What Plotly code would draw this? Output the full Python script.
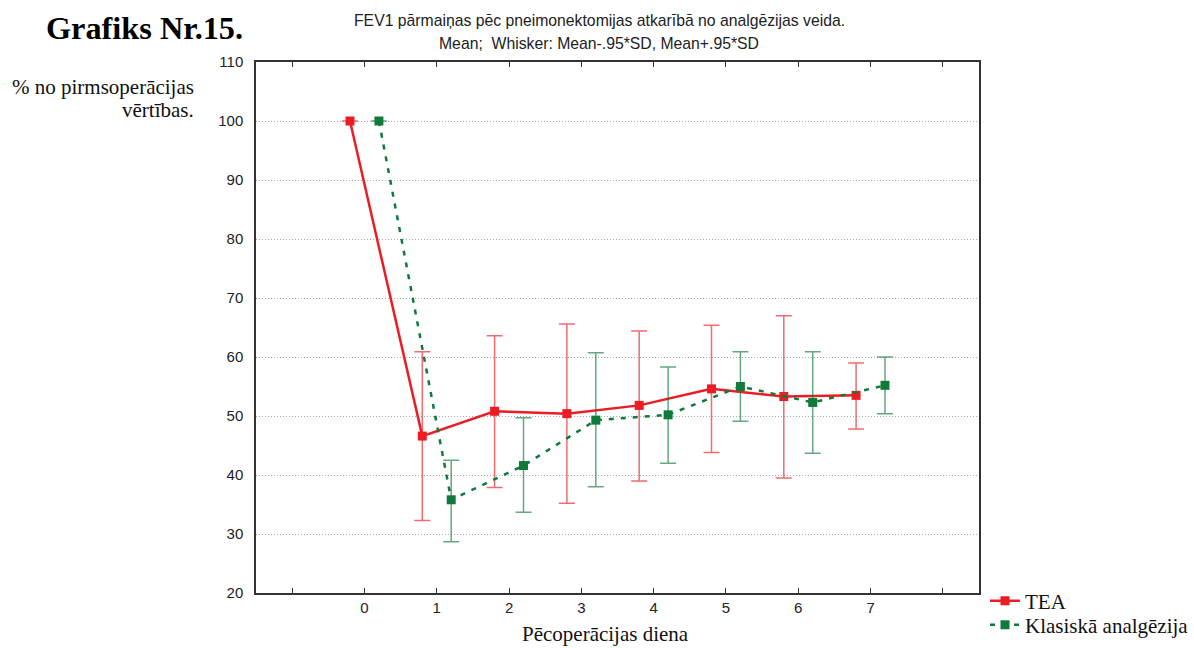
import plotly.graph_objects as go

# Postoperative day and FEV1 (% of preoperative value), mean with mean ± .95*SD whiskers
days = [0, 1, 2, 3, 4, 5, 6, 7]

tea_mean = [100, 46.6, 50.8, 50.4, 51.8, 54.6, 53.3, 53.5]
tea_low = [100, 32.3, 37.9, 35.2, 39.0, 43.8, 39.5, 47.8]
tea_high = [100, 60.9, 63.6, 65.6, 64.4, 65.4, 67.0, 59.0]

kla_mean = [100, 35.8, 41.6, 49.3, 50.2, 55.0, 52.3, 55.2]
kla_low = [100, 28.7, 33.7, 38.0, 42.0, 49.1, 43.7, 50.4]
kla_high = [100, 42.5, 49.7, 60.7, 58.3, 60.9, 60.9, 60.0]

y_ticks = [20, 30, 40, 50, 60, 70, 80, 90, 100, 110]
x_ticks = [-1, 0, 1, 2, 3, 4, 5, 6, 7, 8]
x_labels = ["", "0", "1", "2", "3", "4", "5", "6", "7", ""]

offset = 0.2
red = "#ec1c24"
green = "#0f7a3a"

# plot area in pixels
PL, PR, PT, PB = 256, 979, 62, 593
PW, PH = PR - PL, PB - PT


def px_x(px):
    return (px - PL) / PW


def px_y(py):
    return (PB - py) / PH


fig = go.Figure()

fig.add_trace(go.Scatter(
    x=[d - offset for d in days], y=tea_mean, name="TEA",
    mode="lines+markers", legend="legend",
    line=dict(color=red, width=2.5),
    marker=dict(symbol="square", size=9, color=red),
    error_y=dict(type="data", symmetric=False,
                 array=[h - m for h, m in zip(tea_high, tea_mean)],
                 arrayminus=[m - l for m, l in zip(tea_mean, tea_low)],
                 color="rgba(236,28,36,0.65)", thickness=1.5, width=8),
))

fig.add_trace(go.Scatter(
    x=[d + offset for d in days], y=kla_mean, name="Klasiskā analgēzija",
    mode="lines+markers", legend="legend2",
    line=dict(color=green, width=2.5, dash="5px,7px"),
    marker=dict(symbol="square", size=9, color=green),
    error_y=dict(type="data", symmetric=False,
                 array=[h - m for h, m in zip(kla_high, kla_mean)],
                 arrayminus=[m - l for m, l in zip(kla_mean, kla_low)],
                 color="rgba(15,122,58,0.65)", thickness=1.5, width=8),
))

serif = "Liberation Serif, Times New Roman, serif"
sans = "Liberation Sans, Arial, sans-serif"


def text_at(text, x, y, size, family, xanchor="center", color="#111111"):
    return dict(text=text, x=px_x(x), y=px_y(y), xref="paper", yref="paper",
                xanchor=xanchor, yanchor="middle", showarrow=False,
                font=dict(family=family, size=size, color=color))


def legend_at(y):
    return dict(x=px_x(985), xanchor="left", y=px_y(y), yanchor="middle",
                font=dict(family=serif, size=21, color="#111111"),
                itemwidth=30, bgcolor="rgba(0,0,0,0)")


fig.update_layout(
    width=1194, height=648,
    margin=dict(l=PL, r=1194 - PR, t=PT, b=648 - PB, autoexpand=False),
    paper_bgcolor="white", plot_bgcolor="white",
    font=dict(family=sans, size=15, color="#222222"),
    showlegend=True,
    legend=legend_at(601),
    legend2=legend_at(625),
    annotations=[
        text_at("<b>Grafiks Nr.15.</b>", 44, 28, 32.3, serif, "left", "#000000"),
        text_at("FEV1 pārmaiņas pēc pneimonektomijas atkarībā no analgēzijas veida.",
                599, 20, 15.75, sans, color="#222222"),
        text_at("Mean;  Whisker: Mean-.95*SD, Mean+.95*SD", 599, 43, 15.75, sans,
                color="#222222"),
        text_at("% no pirmsoperācijas", 196, 87, 21, serif, "right"),
        text_at("vērtības.", 196, 110, 21, serif, "right"),
        text_at("Pēcoperācijas diena", 605, 634, 21, serif),
    ],
    xaxis=dict(range=[-1.5, 8.5], tickvals=x_ticks, ticktext=x_labels,
               showgrid=False, zeroline=False, automargin=False,
               showline=True, linecolor="#333333", linewidth=1.5, mirror="ticks",
               ticks="inside", ticklen=5, tickcolor="#333333"),
    yaxis=dict(range=[20, 110], tickvals=y_ticks, automargin=False,
               showgrid=True, gridcolor="#a8a8a8", griddash="1px,2px", gridwidth=1,
               zeroline=False,
               showline=True, linecolor="#333333", linewidth=1.5, mirror=True,
               ticks="", ticklabelstandoff=8),
)

fig.write_html("out.html")
